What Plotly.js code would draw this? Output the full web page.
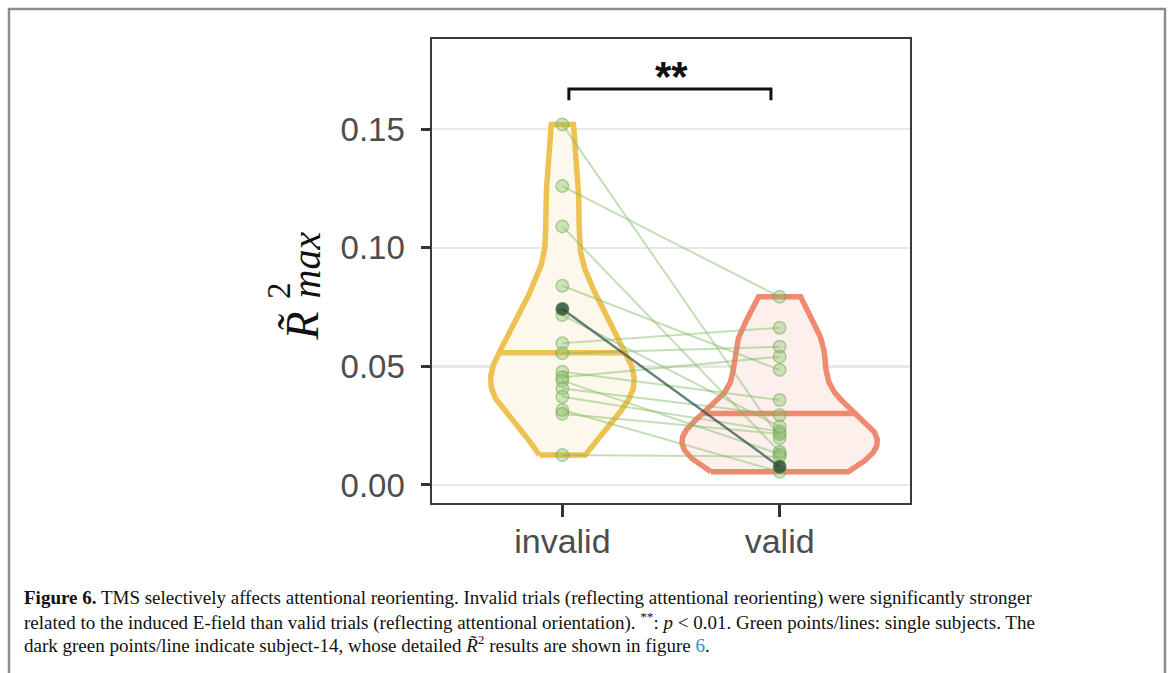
<!DOCTYPE html>
<html>
<head>
<meta charset="utf-8">
<script src="https://cdn.plot.ly/plotly-3.0.1.min.js"></script>
<style>
  html, body { margin: 0; padding: 0; background: #ffffff; }
  #chart { width: 1169px; height: 673px; }
</style>
</head>
<body>
<div id="chart"></div>
<script>
// ---------------- data ----------------
const categories = ['invalid', 'valid'];
// per-subject values (same order in both arrays = same subject)
const invalidValues = [0.152, 0.126, 0.109, 0.084, 0.0742, 0.0716, 0.0597, 0.0555, 0.0477, 0.0454, 0.0440, 0.0407, 0.0372, 0.0316, 0.0300, 0.0126];
const validValues   = [0.0198, 0.0793, 0.0140, 0.0485, 0.0077, 0.0246, 0.0663, 0.0583, 0.0358, 0.0541, 0.0130, 0.0295, 0.0225, 0.0056, 0.0215, 0.0119];
const highlightSubject = 4; // subject-14 (dark green)
const yTickValues = [0, 0.05, 0.10, 0.15];
const yTickLabels = ['0.00', '0.05', '0.10', '0.15'];
const bracketX = [1.03, 1.96];
const bracketTop = 0.1669;
const bracketTip = 0.1622;
const sigLabel = '**';
const sigLabelY = 0.1722;
const captionLines = [
  '<b>Figure 6.</b> TMS selectively affects attentional reorienting. Invalid trials (reflecting attentional reorienting) were significantly stronger',
  'related to the induced E-field than valid trials (reflecting attentional orientation). <sup>**</sup>: <i>p</i> &lt; 0.01. Green points/lines: single subjects. The',
  'dark green points/line indicate subject-14, whose detailed <i>R̃</i><sup>2</sup> results are shown in figure <span style="color:#2A8FCB">6</span>.'
];

// ---------------- styles ----------------
const violinLine = ['#EDC152', '#EF8A70'];
const violinFill = ['#FDF8EC', '#FDF0EC'];

// ---------------- violin density (ggplot-like: nrd0 bw, trimmed, scale = area) ----------------
function quantile7(s, p) {
  const h = (s.length - 1) * p, lo = Math.floor(h);
  return lo + 1 < s.length ? s[lo] + (h - lo) * (s[lo + 1] - s[lo]) : s[lo];
}
function kde(vals) {
  const s = vals.slice().sort((a, b) => a - b), n = s.length;
  const mean = s.reduce((a, b) => a + b, 0) / n;
  const sd = Math.sqrt(s.reduce((a, b) => a + (b - mean) * (b - mean), 0) / (n - 1));
  const iqr = quantile7(s, 0.75) - quantile7(s, 0.25);
  const bw = 0.9 * Math.min(sd, iqr / 1.34) * Math.pow(n, -0.2);
  const N = 512, ys = [], ds = [];
  for (let k = 0; k < N; k++) {
    const y = s[0] + (s[n - 1] - s[0]) * k / (N - 1);
    let d = 0;
    for (const v of s) { const z = (y - v) / bw; d += Math.exp(-0.5 * z * z); }
    ys.push(y); ds.push(d / (n * bw * Math.sqrt(2 * Math.PI)));
  }
  return { ys, ds };
}
function interp(xs, ys, x) {
  for (let i = 1; i < xs.length; i++) {
    if (x <= xs[i]) { const t = (x - xs[i - 1]) / (xs[i] - xs[i - 1] || 1); return ys[i - 1] + t * (ys[i] - ys[i - 1]); }
  }
  return ys[ys.length - 1];
}
const groups = [invalidValues, validValues];
const dens = groups.map(kde);
const gmax = Math.max(...dens.map(d => Math.max(...d.ds)));

const traces = [];
dens.forEach((d, gi) => {
  const c = gi + 1;
  const hw = d.ds.map(v => 0.45 * v / gmax);
  const px = [], py = [];
  for (let k = 0; k < d.ys.length; k++) { px.push(c - hw[k]); py.push(d.ys[k]); }
  for (let k = d.ys.length - 1; k >= 0; k--) { px.push(c + hw[k]); py.push(d.ys[k]); }
  px.push(px[0]); py.push(py[0]);
  traces.push({ type: 'scatter', mode: 'lines', x: px, y: py, fill: 'toself', fillcolor: violinFill[gi],
    line: { color: violinLine[gi], width: 5.5, shape: 'linear' }, hoverinfo: 'skip' });
  // median of the density (ggplot draw_quantiles = 0.5)
  const tot = d.ds.reduce((a, b) => a + b, 0);
  let acc = 0; const cum = d.ds.map(v => (acc += v) / tot);
  const qy = interp(cum, d.ys, 0.5);
  const qw = interp(d.ys, hw, qy);
  traces.push({ type: 'scatter', mode: 'lines', x: [c - qw, c + qw], y: [qy, qy],
    line: { color: violinLine[gi], width: 5.5 }, hoverinfo: 'skip' });
});

// subject lines
const lx = [], ly = [];
invalidValues.forEach((v, i) => {
  if (i === highlightSubject) return;
  lx.push(1, 2, null); ly.push(v, validValues[i], null);
});
traces.push({ type: 'scatter', mode: 'lines', x: lx, y: ly, line: { color: 'rgba(125,185,95,0.45)', width: 2 }, hoverinfo: 'skip' });
traces.push({ type: 'scatter', mode: 'lines', x: [1, 2], y: [invalidValues[highlightSubject], validValues[highlightSubject]],
  line: { color: 'rgba(50,85,78,0.75)', width: 2.4 }, hoverinfo: 'skip' });

// subject points
const ptx = [], pty = [];
invalidValues.forEach((v, i) => { if (i !== highlightSubject) { ptx.push(1); pty.push(v); } });
validValues.forEach((v, i) => { if (i !== highlightSubject) { ptx.push(2); pty.push(v); } });
traces.push({ type: 'scatter', mode: 'markers', x: ptx, y: pty,
  marker: { size: 12.5, color: 'rgba(135,190,105,0.38)', line: { color: 'rgba(110,170,80,0.5)', width: 1.5 } }, hoverinfo: 'skip' });
traces.push({ type: 'scatter', mode: 'markers', x: [1, 2], y: [invalidValues[highlightSubject], validValues[highlightSubject]],
  marker: { size: 12.5, color: 'rgba(35,70,45,0.80)', line: { color: 'rgba(60,110,70,0.7)', width: 1.5 } }, hoverinfo: 'skip' });

// significance bracket
traces.push({ type: 'scatter', mode: 'lines', x: [bracketX[0], bracketX[0], bracketX[1], bracketX[1]],
  y: [bracketTip, bracketTop, bracketTop, bracketTip], line: { color: '#111111', width: 3 }, hoverinfo: 'skip' });

// ---------------- layout ----------------
const W = 1169, H = 673, L = 432, R = 910, T = 39, B = 503;
const fx = px => (px - L) / (R - L);
const fy = py => (B - py) / (B - T);

const annotations = [
  { xref: 'x', yref: 'y', x: 1.5, y: sigLabelY, text: sigLabel, showarrow: false,
    font: { family: 'Liberation Sans, Arial, sans-serif', size: 42, color: '#111111', weight: 'bold' } },
  // y-axis title R~^2_max (rotated)
  { xref: 'paper', yref: 'paper', x: fx(274), y: fy(326), text: '<i>R̃</i>', showarrow: false, textangle: -90,
    font: { family: 'Liberation Serif, Times New Roman, serif', size: 46, color: '#111111' } },
  { xref: 'paper', yref: 'paper', x: fx(259), y: fy(291), text: '2', showarrow: false, textangle: -90,
    font: { family: 'Liberation Serif, Times New Roman, serif', size: 33, color: '#111111' } },
  { xref: 'paper', yref: 'paper', x: fx(281), y: fy(265), text: '<i>max</i>', showarrow: false, textangle: -90,
    font: { family: 'Liberation Serif, Times New Roman, serif', size: 40, color: '#111111' } }
];
const capY = [598, 621, 644];
captionLines.forEach((t, i) => {
  annotations.push({ xref: 'paper', yref: 'paper', x: fx(22), y: fy(capY[i]), xanchor: 'left', yanchor: 'middle', align: 'left',
    text: t, showarrow: false, font: { family: 'Liberation Serif, Times New Roman, serif', size: 19, color: '#111111' } });
});

const layout = {
  width: W, height: H,
  margin: { l: L, r: W - R, t: T, b: H - B, pad: 0 },
  paper_bgcolor: '#ffffff', plot_bgcolor: '#ffffff',
  showlegend: false,
  xaxis: {
    range: [0.4, 2.6], tickmode: 'array', tickvals: categories.map((c, i) => i + 1), ticktext: categories,
    showgrid: false, zeroline: false, showline: true, mirror: true, linecolor: '#3a3a3a', linewidth: 1.6,
    ticks: 'outside', ticklen: 12, tickwidth: 3, tickcolor: '#333333', ticklabelstandoff: -4,
    tickfont: { family: 'Liberation Sans, Arial, sans-serif', size: 34, color: '#4D4D4D' }, fixedrange: true
  },
  yaxis: {
    range: [-0.0076, 0.188], tickmode: 'array', tickvals: yTickValues, ticktext: yTickLabels,
    showgrid: true, gridcolor: '#E8E8E8', gridwidth: 2.5, zeroline: false,
    showline: true, mirror: true, linecolor: '#3a3a3a', linewidth: 1.6,
    ticks: 'outside', ticklen: 9, tickwidth: 3, tickcolor: '#333333', ticklabelstandoff: 10,
    tickfont: { family: 'Liberation Sans, Arial, sans-serif', size: 33, color: '#4D4D4D' }, fixedrange: true
  },
  annotations: annotations,
  shapes: [
    { type: 'rect', xref: 'paper', yref: 'paper', x0: fx(9), x1: fx(1165), y0: fy(700), y1: fy(9),
      line: { color: '#8C8C8C', width: 2.5 }, fillcolor: 'rgba(0,0,0,0)', layer: 'above' }
  ]
};

Plotly.newPlot('chart', traces, layout, { staticPlot: true, displayModeBar: false });
</script>
</body>
</html>
